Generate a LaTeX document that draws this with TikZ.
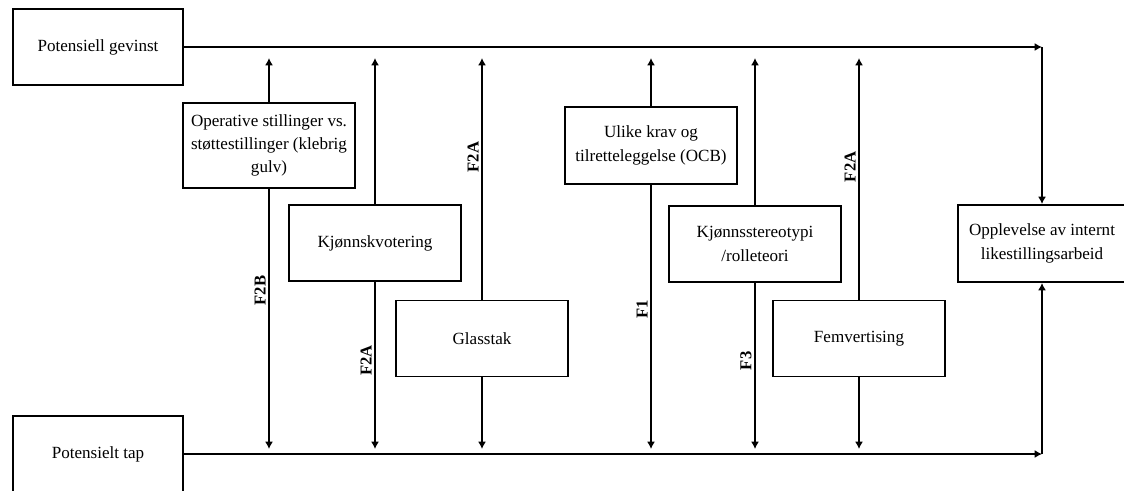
\documentclass[tikz,border=0pt]{standalone}
\usepackage{fontspec}
\setmainfont{Liberation Serif}
\usetikzlibrary{arrows.meta,positioning,calc}
\tikzset{
  box/.style={rectangle, draw=black, line width=1.2pt, fill=white, align=center, minimum width=129pt, minimum height=57pt, font=\fontsize{12.8}{17.5}\selectfont},
  arrow/.style={-{Latex[length=5.5pt,width=6pt]}, line width=1.1pt},
  flab/.style={rotate=90, anchor=south, inner sep=2pt, font=\fontsize{12.5}{14}\selectfont\bfseries}
}

\begin{document}
\begin{tikzpicture}[x=0.75pt, y=-0.75pt]
  \useasboundingbox (0,0) rectangle (1124,490);
  \node[box, minimum width=127.5pt] (gevinst) at (98,47) {Potensiell gevinst};
  \node[box, minimum width=127.5pt] (tap) at (98,454) {Potensielt tap};
  \node[box, minimum width=126pt, minimum height=58pt] (opplevelse) at (1042,243.5) {Opplevelse av internt\\likestillingsarbeid};
  \node[box, minimum height=64pt] (operative) at (269,145.5) {Operative stillinger vs.\\støttestillinger (klebrig\\gulv)};
  \node[box] (kvotering) at (375,243) {Kjønnskvotering};
  \node[box] (glasstak) at (482,338.5) {Glasstak};
  \node[box, minimum height=58pt] (krav) at (651,145.5) {Ulike krav og\\tilretteleggelse (OCB)};
  \node[box] (stereotypi) at (755,244) {Kjønnsstereotypi\\/rolleteori};
  \node[box] (femvertising) at (859,338.5) {Femvertising};
  \coordinate (tiptop) at (0,58);
  \coordinate (tipbot) at (0,449);
  \coordinate (cornertop) at (opplevelse.north |- gevinst.east);
  \coordinate (cornerbot) at (opplevelse.south |- tap.east);
  % gain / loss into the outcome
  \draw[arrow] (gevinst) -- (cornertop);
  \draw[arrow] (cornertop) -- (opplevelse);
  \draw[arrow] (tap) -- (cornerbot);
  \draw[arrow] (cornerbot) -- (opplevelse);
  % factors
  \draw[arrow] (operative) -- (operative |- tiptop);
  \draw[arrow] (operative) -- (operative |- tipbot) node[flab, pos=0.39] {F2B};
  \draw[arrow] (kvotering) -- (kvotering |- tiptop);
  \draw[arrow] (kvotering) -- (kvotering |- tipbot) node[flab, pos=0.47] {F2A};
  \draw[arrow] (glasstak) -- (glasstak |- tiptop) node[flab, pos=0.59] {F2A};
  \draw[arrow] (glasstak) -- (glasstak |- tipbot);
  \draw[arrow] (krav) -- (krav |- tiptop);
  \draw[arrow] (krav) -- (krav |- tipbot) node[flab, pos=0.47] {F1};
  \draw[arrow] (stereotypi) -- (stereotypi |- tiptop);
  \draw[arrow] (stereotypi) -- (stereotypi |- tipbot) node[flab, pos=0.47] {F3};
  \draw[arrow] (femvertising) -- (femvertising |- tiptop) node[flab, pos=0.55] {F2A};
  \draw[arrow] (femvertising) -- (femvertising |- tipbot);
\end{tikzpicture}
\end{document}
